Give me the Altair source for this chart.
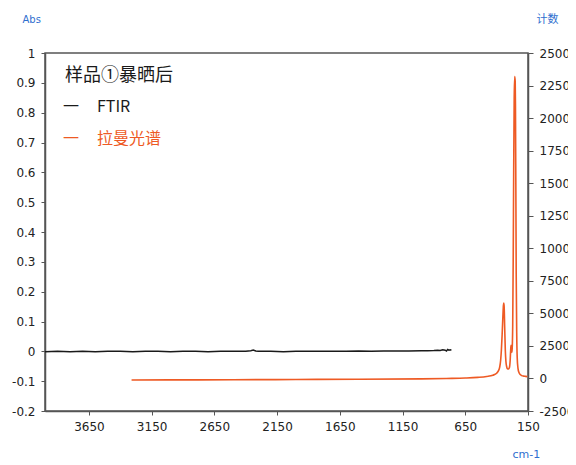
import altair as alt
import pandas as pd

# FTIR (Abs, left axis)
ftir_wn = [4000, 3900, 3800, 3700, 3600, 3500, 3400, 3300, 3200, 3100, 3000, 2900,
           2800, 2700, 2600, 2500, 2400, 2360, 2340, 2320, 2300, 2200, 2100, 2000,
           1900, 1800, 1700, 1600, 1500, 1400, 1300, 1200, 1100, 1000, 950, 900,
           870, 850, 830, 810, 800, 790, 780, 770, 760]
ftir_abs = [-0.001, 0.0, -0.001, 0.0, -0.001, 0.0, 0.0, -0.001, 0.0, 0.0, -0.001, 0.0,
            0.0, -0.001, 0.0, 0.0, 0.0, 0.002, 0.004, 0.001, 0.0, 0.0, -0.001, 0.0,
            0.0, 0.0, 0.0, 0.0, 0.001, 0.0, 0.001, 0.001, 0.001, 0.002, 0.002, 0.003,
            0.004, 0.003, 0.005, 0.004, 0.001, 0.006, 0.004, 0.005, 0.004]

# Raman (counts, right axis)
raman_wn = [3310, 3000, 2500, 2000, 1500, 1000, 800, 650, 550, 480, 430, 400, 385,
            375, 368, 362, 356, 350, 346, 343, 340, 336, 331, 326, 320, 314, 306,
            298, 292, 288, 285, 282, 279, 276, 272, 268, 264, 260, 256, 252, 250,
            247, 244, 240, 236, 230, 222, 212, 200, 185, 170, 155]
raman_cnt = [-120, -110, -100, -80, -60, -30, 0, 30, 80, 150, 250, 400, 600,
             900, 1400, 2200, 3400, 4800, 5600, 5800, 5500, 4000, 2200, 1300, 900, 750, 730,
             850, 1400, 2200, 2550, 2300, 2000, 2300, 4000, 9000, 16000, 21500, 23200, 22800, 21000,
             15000, 8000, 3500, 1600, 800, 450, 300, 220, 180, 160, 140]

x_ticks = [3650, 3150, 2650, 2150, 1650, 1150, 650, 150]
abs_ticks = [-0.2, -0.1, 0, 0.1, 0.2, 0.3, 0.4, 0.5, 0.6, 0.7, 0.8, 0.9, 1]
cnt_ticks = [-2500, 0, 2500, 5000, 7500, 10000, 12500, 15000, 17500, 20000, 22500, 25000]

legend_title = "样品①暴晒后"
legend_names = ["FTIR", "拉曼光谱"]
legend_colors = ["#1a1a1a", "#ee5a24"]

ftir = pd.DataFrame({"wn": ftir_wn, "v": ftir_abs})
raman = pd.DataFrame({"wn": raman_wn, "v": raman_cnt})

AX = "#555555"
BLUE = "#2f6fcf"
LF = "DejaVu Sans"
CJK = "Noto Sans CJK SC"

xscale = alt.Scale(domain=[150, 4000], reverse=True, nice=False, zero=False)
xaxis = alt.Axis(values=x_ticks, labelExpr="'' + datum.value", title="cm-1",
                 titleAngle=0, titleAlign="left", labelFlush=False,
                 titleBaseline="middle", titleX=467, titleY=43, titleColor=BLUE,
                 titleFontSize=11, titleFontWeight="normal", titleFont=LF,
                 grid=False, tickSize=4, labelPadding=6)

l_ftir = alt.Chart(ftir).mark_line(color=legend_colors[0], strokeWidth=1.5).encode(
    x=alt.X("wn:Q", scale=xscale, axis=xaxis),
    y=alt.Y("v:Q", scale=alt.Scale(domain=[-0.2, 1], nice=False, zero=False),
            axis=alt.Axis(values=abs_ticks, labelExpr="'' + datum.value", title="Abs",
                          titleAngle=0, titleAlign="left", titleBaseline="middle",
                          titleX=-23, titleY=-34, titleColor=BLUE, titleFontSize=10,
                          titleFontWeight="normal", titleFont=LF, grid=False,
                          labelFlush=False,
                          tickSize=4, labelPadding=6, orient="left")),
)

l_raman = alt.Chart(raman).mark_line(color=legend_colors[1], strokeWidth=1.6,
                                     interpolate="monotone").encode(
    x=alt.X("wn:Q", scale=xscale, axis=xaxis),
    y=alt.Y("v:Q", scale=alt.Scale(domain=[-2500, 25000], nice=False, zero=False),
            axis=alt.Axis(values=cnt_ticks, labelExpr="'' + datum.value", title="计数",
                          titleAngle=0, titleAlign="left", titleBaseline="middle",
                          titleX=8, titleY=-34, titleColor=BLUE, titleFontSize=11,
                          titleFontWeight="normal", titleFont=CJK, grid=False,
                          labelFlush=False,
                          tickSize=5, labelPadding=6, orient="right")),
)

one = alt.Data(values=[{"a": 1}])
t_title = alt.Chart(one).mark_text(align="left", baseline="middle", fontSize=18,
                                   font=CJK, color="#1a1a1a").encode(
    x=alt.value(20), y=alt.value(23), text=alt.value(legend_title))
t_dash1 = alt.Chart(one).mark_text(align="left", baseline="middle", fontSize=16,
                                   font=CJK, color=legend_colors[0]).encode(
    x=alt.value(18), y=alt.value(54), text=alt.value("一"))
t_lab1 = alt.Chart(one).mark_text(align="left", baseline="middle", fontSize=16,
                                  font=CJK, color=legend_colors[0]).encode(
    x=alt.value(52), y=alt.value(54), text=alt.value(legend_names[0]))
t_dash2 = alt.Chart(one).mark_text(align="left", baseline="middle", fontSize=16,
                                   font=CJK, color=legend_colors[1]).encode(
    x=alt.value(18), y=alt.value(86), text=alt.value("一"))
t_lab2 = alt.Chart(one).mark_text(align="left", baseline="middle", fontSize=16,
                                  font=CJK, color=legend_colors[1]).encode(
    x=alt.value(52), y=alt.value(86), text=alt.value(legend_names[1]))

chart = alt.layer(l_ftir, l_raman, t_title, t_dash1, t_lab1, t_dash2, t_lab2).resolve_scale(
    y="independent"
).properties(
    width=483, height=358,
    autosize=alt.AutoSizeParams(type="none"),
    padding={"left": 37, "top": 45, "right": 40, "bottom": 49},
).configure_view(
    stroke=AX, strokeWidth=1.5
).configure_axis(
    domainColor=AX, domainWidth=1.5, tickColor=AX, tickWidth=1,
    labelFont=LF, labelFontSize=12, labelColor="#222222",
)

chart.save("out.html", embed_options={"renderer": "svg", "actions": False})
